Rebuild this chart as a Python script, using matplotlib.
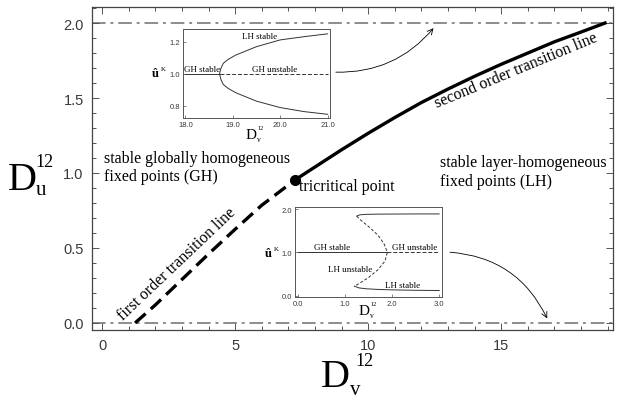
import matplotlib
matplotlib.use("Agg")
import matplotlib.pyplot as plt
from matplotlib.ticker import MultipleLocator, FormatStrFormatter

# main phase diagram
first_dv = [1.24, 2.0, 3.0, 4.0, 5.0, 6.0, 7.26]
first_du = [0.0, 0.12, 0.29, 0.46, 0.625, 0.785, 0.955]
second_dv = [7.26, 8.0, 9.0, 10.0, 11.0, 12.0, 13.0, 14.0, 15.0, 16.0, 17.0, 18.0, 18.9]
second_du = [0.955, 1.04, 1.155, 1.265, 1.37, 1.47, 1.56, 1.645, 1.725, 1.80, 1.875, 1.94, 2.0]
tricritical = (7.26, 0.955)
bounds_du = [0.0, 2.0]

# upper inset: pitchfork near D_v = 18.7
top_gh_stable_dv = [18.0, 18.72]
top_gh_unstable_dv = [18.72, 21.0]
top_lh_dv = [21.0, 20.5, 20.0, 19.5, 19.06, 18.9, 18.8, 18.75, 18.72,
             18.75, 18.8, 18.9, 19.06, 19.5, 20.0, 20.5, 21.0]
top_lh_u = [1.25, 1.232, 1.212, 1.17, 1.117, 1.09, 1.066, 1.035, 1.0,
            0.965, 0.934, 0.91, 0.883, 0.83, 0.79, 0.765, 0.748]

# lower inset: subcritical branch
bot_gh_stable_dv = [0.0, 1.9]
bot_gh_unstable_dv = [1.9, 3.0]
bot_lh_up_dv = [1.25, 1.32, 1.45, 1.7, 2.0, 2.5, 3.0]
bot_lh_up_u = [1.84, 1.87, 1.88, 1.885, 1.887, 1.89, 1.89]
bot_lh_unst_dv = [1.25, 1.32, 1.5, 1.7, 1.83, 1.9, 1.85, 1.7, 1.5, 1.3, 1.2]
bot_lh_unst_u = [1.84, 1.76, 1.6, 1.4, 1.2, 1.0, 0.8, 0.6, 0.42, 0.28, 0.22]
bot_lh_low_dv = [1.2, 1.3, 1.45, 1.7, 2.0, 2.5, 3.0]
bot_lh_low_u = [0.22, 0.18, 0.16, 0.145, 0.135, 0.125, 0.12]

W, H = 623, 402
fig = plt.figure(figsize=(W / 100, H / 100), dpi=100)
serif = "Liberation Serif"
sans = "Liberation Sans"
tcol = "#3a3a3a"

def fx(px):
    return px / W

def fy(py):
    return 1 - py / H

ax = fig.add_axes([fx(92), fy(331), fx(613) - fx(92), fy(8) - fy(331)])
ax.set_xlim(-0.38, 19.2)
ax.set_ylim(-0.047, 2.107)

for y in bounds_du:
    ax.axhline(y, color="#8c8c8c", lw=1.4, ls=(0, (7, 2.5, 1.5, 2.5)), zorder=1)
ax.plot(first_dv, first_du, color="black", lw=2.4, ls=(0, (4.2, 2.1)), zorder=3)
ax.plot(second_dv, second_du, color="black", lw=2.4, zorder=3)
ax.plot(*tricritical, "o", color="black", ms=7, zorder=4)

ax.xaxis.set_major_locator(MultipleLocator(5))
ax.xaxis.set_minor_locator(MultipleLocator(1))
ax.yaxis.set_major_locator(MultipleLocator(0.5))
ax.yaxis.set_minor_locator(MultipleLocator(0.1))
ax.yaxis.set_major_formatter(FormatStrFormatter("%.1f"))
ax.tick_params(which="both", direction="in", top=True, right=True, width=0.7,
               color="#555555", labelcolor=tcol, labelsize=10.5, pad=6)
ax.tick_params(which="major", length=5)
ax.tick_params(which="minor", length=3)
for lab in ax.get_xticklabels() + ax.get_yticklabels():
    lab.set_family(sans)
for s in ax.spines.values():
    s.set_color("#444444")
    s.set_linewidth(0.9)

# axis labels
fig.text(fx(8), fy(190), "D", family=serif, fontsize=29, ha="left", va="baseline")
fig.text(fx(35), fy(167), "12", family=serif, fontsize=13, ha="left", va="baseline")
fig.text(fx(36), fy(195), "u", family=serif, fontsize=15, ha="left", va="baseline")
fig.text(fx(321), fy(387), "D", family=serif, fontsize=29, ha="left", va="baseline")
fig.text(fx(355), fy(366), "12", family=serif, fontsize=13, ha="left", va="baseline")
fig.text(fx(350), fy(395), "v", family=serif, fontsize=15, ha="left", va="baseline")

# annotations in the main plot
ax.text(0.07, 1.04, "stable globally homogeneous\nfixed points (GH)", family=serif,
        fontsize=11.5, ha="left", va="center", linespacing=1.2)
ax.text(7.4, 0.915, "tricritical point", family=serif, fontsize=11.5, ha="left", va="center")
ax.text(12.7, 1.01, "stable layer-homogeneous\nfixed points (LH)", family=serif,
        fontsize=11.5, ha="left", va="center", linespacing=1.2)
ax.text(2.8, 0.40, "first order transition line", family=serif, fontsize=11.5,
        rotation=43.5, ha="center", va="center", rotation_mode="anchor")
ax.text(15.55, 1.69, "second order transition line", family=serif, fontsize=11.5,
        rotation=22.5, ha="center", va="center", rotation_mode="anchor")

ax.annotate("", xy=(12.52, 1.98), xytext=(8.68, 1.673),
            arrowprops=dict(arrowstyle="->", color="black", lw=0.6,
                            connectionstyle="arc3,rad=0.25"))
ax.annotate("", xy=(16.77, 0.013), xytext=(12.97, 0.473),
            arrowprops=dict(arrowstyle="->", color="black", lw=0.6,
                            connectionstyle="arc3,rad=-0.3"))

def style_inset(a):
    a.tick_params(which="both", direction="in", length=2, width=0.5, color="#555555",
                  labelsize=5.5, labelcolor=tcol, pad=2)
    for lab in a.get_xticklabels() + a.get_yticklabels():
        lab.set_family(sans)
    for s in a.spines.values():
        s.set_color("#555555")
        s.set_linewidth(0.7)

# upper inset
ia = fig.add_axes([fx(183), fy(119), fx(330) - fx(183), fy(30) - fy(119)])
ia.plot(top_gh_stable_dv, [1.0, 1.0], color="#333333", lw=0.7)
ia.plot(top_gh_unstable_dv, [1.0, 1.0], color="#333333", lw=0.7, ls=(0, (4, 2)))
ia.plot(top_lh_dv, top_lh_u, color="#333333", lw=0.7)
ia.set_xlim(17.95, 21.05)
ia.set_ylim(0.725, 1.28)
ia.set_xticks([18.0, 19.0, 20.0, 21.0])
ia.set_yticks([0.8, 1.0, 1.2])
ia.xaxis.set_major_formatter(FormatStrFormatter("%.1f"))
ia.yaxis.set_major_formatter(FormatStrFormatter("%.1f"))
style_inset(ia)
ia.text(17.98, 1.005, "GH stable", family=serif, fontsize=6.5, ha="left", va="bottom")
ia.text(19.4, 1.005, "GH unstable", family=serif, fontsize=6.5, ha="left", va="bottom")
ia.text(19.2, 1.235, "LH stable", family=serif, fontsize=6.5, ha="left", va="center")

# lower inset
ib = fig.add_axes([fx(295), fy(298), fx(442) - fx(295), fy(208) - fy(298)])
ib.plot(bot_gh_stable_dv, [1.0, 1.0], color="#333333", lw=0.7)
ib.plot(bot_gh_unstable_dv, [1.0, 1.0], color="#333333", lw=0.7, ls=(0, (4, 2)))
ib.plot(bot_lh_up_dv, bot_lh_up_u, color="#333333", lw=0.7)
ib.plot(bot_lh_unst_dv, bot_lh_unst_u, color="#333333", lw=0.7, ls=(0, (3, 2)))
ib.plot(bot_lh_low_dv, bot_lh_low_u, color="#333333", lw=0.7)
ib.set_xlim(-0.06, 3.06)
ib.set_ylim(-0.03, 2.05)
ib.set_xticks([0.0, 1.0, 2.0, 3.0])
ib.set_yticks([0.0, 1.0, 2.0])
ib.xaxis.set_major_formatter(FormatStrFormatter("%.1f"))
ib.yaxis.set_major_formatter(FormatStrFormatter("%.1f"))
style_inset(ib)
ib.text(0.35, 1.04, "GH stable", family=serif, fontsize=6.5, ha="left", va="bottom")
ib.text(2.0, 1.04, "GH unstable", family=serif, fontsize=6.5, ha="left", va="bottom")
ib.text(0.65, 0.52, "LH unstable", family=serif, fontsize=6.5, ha="left", va="bottom")
ib.text(1.85, 0.16, "LH stable", family=serif, fontsize=6.5, ha="left", va="bottom")

# inset axis labels
for (xl, yl) in [((246, 139), (152, 77)), ((359, 315), (265, 257))]:
    fig.text(fx(xl[0]), fy(xl[1]), "D", family=serif, fontsize=11, ha="left", va="baseline")
    fig.text(fx(xl[0] + 11), fy(xl[1] - 9), "12", family=serif, fontsize=4.5, ha="left", va="baseline")
    fig.text(fx(xl[0] + 11), fy(xl[1] + 3), "v", family=serif, fontsize=5.5, ha="left", va="baseline")
    fig.text(fx(yl[0]), fy(yl[1]), "û", family=serif, fontsize=9, weight="bold",
             ha="left", va="baseline")
    fig.text(fx(yl[0] + 9), fy(yl[1] - 6), "K", family=serif, fontsize=5, ha="left", va="baseline")

fig.savefig("out.png", dpi=100)
